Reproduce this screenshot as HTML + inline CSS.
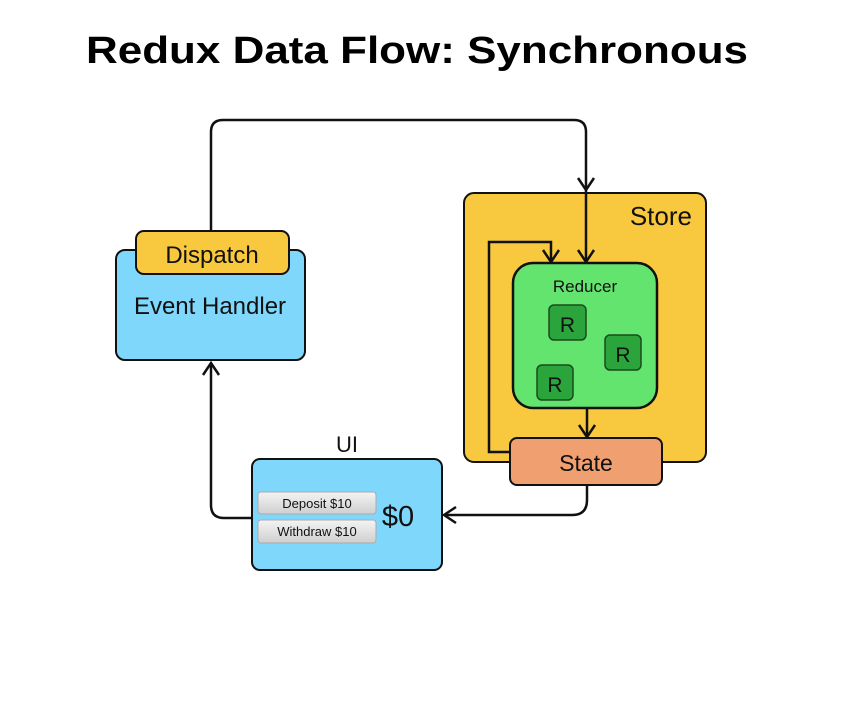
<!DOCTYPE html>
<html><head><meta charset="utf-8"><style>
html,body{margin:0;padding:0;background:#fff;width:866px;height:711px;overflow:hidden}
</style></head><body>
<svg width="866" height="711" viewBox="0 0 866 711" xmlns="http://www.w3.org/2000/svg" font-family="'Liberation Sans', sans-serif">
<defs>
<linearGradient id="btn" x1="0" y1="0" x2="0" y2="1"><stop offset="0" stop-color="#f4f4f4"/><stop offset="1" stop-color="#cfcfcf"/></linearGradient>
</defs>
<text x="417" y="63" text-anchor="middle" font-size="38" font-weight="bold" fill="#000" textLength="662" lengthAdjust="spacingAndGlyphs">Redux Data Flow: Synchronous</text>

<!-- Store background -->
<rect x="464" y="193" width="242" height="269" rx="10" fill="#f8c83e" stroke="#111" stroke-width="2"/>
<text x="692" y="225" text-anchor="end" font-size="26" fill="#111">Store</text>

<!-- connectors -->
<g fill="none" stroke="#111" stroke-width="2.5">
<path d="M211 232 V132 Q211 120 223 120 H574 Q586 120 586 132 V262"/>
<path d="M578 178 L586 190 L594 178"/>
<path d="M510 452 H489 V242 H551 V262"/>
<path d="M543 250 L551 262 L559 250"/>
<path d="M578 250 L586 262 L594 250"/>
<path d="M587 408 V437"/>
<path d="M579 425 L587 437 L595 425"/>
<path d="M587 485 V500 Q587 515 572 515 H444"/>
<path d="M456 507 L444 515 L456 523"/>
<path d="M252 518 H224 Q211 518 211 505 V363"/>
<path d="M203 375 L211 363 L219 375"/>
</g>

<!-- Event handler -->
<rect x="116" y="250" width="189" height="110" rx="9" fill="#7fd8fc" stroke="#111" stroke-width="2"/>
<rect x="136" y="231" width="153" height="43" rx="8" fill="#f8c83e" stroke="#111" stroke-width="2"/>
<text x="212" y="263" text-anchor="middle" font-size="24" fill="#111">Dispatch</text>
<text x="210" y="314" text-anchor="middle" font-size="24" fill="#111">Event Handler</text>

<!-- Reducer -->
<rect x="513" y="263" width="144" height="145" rx="20" fill="#63e46f" stroke="#111" stroke-width="2.5"/>
<text x="585" y="292" text-anchor="middle" font-size="17" fill="#111">Reducer</text>
<rect x="549" y="305" width="37" height="35" rx="5" fill="#2aa43b" stroke="#1a4a1f" stroke-width="1.5"/>
<text x="567.5" y="332" text-anchor="middle" font-size="21" fill="#111">R</text>
<rect x="605" y="335" width="36" height="35" rx="5" fill="#2aa43b" stroke="#1a4a1f" stroke-width="1.5"/>
<text x="623" y="362" text-anchor="middle" font-size="21" fill="#111">R</text>
<rect x="537" y="365" width="36" height="35" rx="5" fill="#2aa43b" stroke="#1a4a1f" stroke-width="1.5"/>
<text x="555" y="392" text-anchor="middle" font-size="21" fill="#111">R</text>
<rect x="510" y="438" width="152" height="47" rx="7" fill="#f0a070" stroke="#111" stroke-width="2"/>
<text x="586" y="471" text-anchor="middle" font-size="23" fill="#111">State</text>

<!-- UI -->
<text x="347" y="452" text-anchor="middle" font-size="22" fill="#111">UI</text>
<rect x="252" y="459" width="190" height="111" rx="8" fill="#7fd8fc" stroke="#111" stroke-width="2"/>
<rect x="258" y="492" width="118" height="22" rx="3" fill="url(#btn)" stroke="#aaa" stroke-width="1"/>
<text x="317" y="508" text-anchor="middle" font-size="13" fill="#111">Deposit $10</text>
<rect x="258" y="520" width="118" height="23" rx="3" fill="url(#btn)" stroke="#aaa" stroke-width="1"/>
<text x="317" y="536" text-anchor="middle" font-size="13" fill="#111">Withdraw $10</text>
<text x="398" y="526" text-anchor="middle" font-size="29" fill="#111">$0</text>
</svg>
</body></html>
